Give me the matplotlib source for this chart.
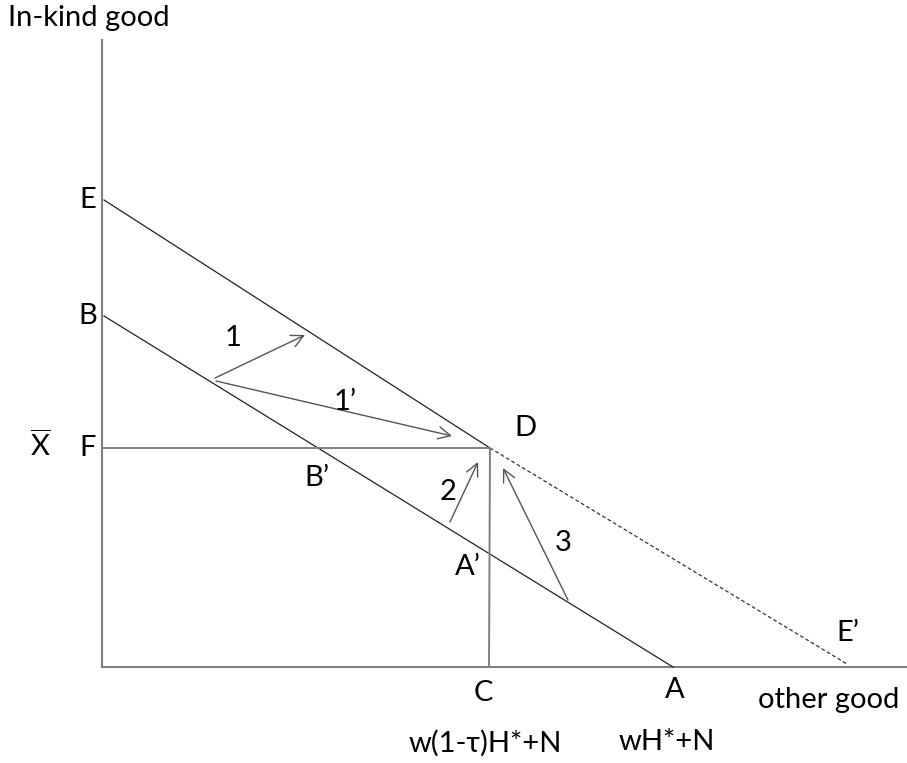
import matplotlib
matplotlib.use("Agg")
import matplotlib.pyplot as plt

plt.rcParams['font.family'] = ['Lato', 'DejaVu Sans']
plt.rcParams['mathtext.fontset'] = 'custom'
plt.rcParams['mathtext.rm'] = 'Lato'

# diagram points (origin at the corner of the axes)
axis_top = 627
axis_right = 805
E = (2, 467)
B = (2, 351)
F = (0, 219)
D = (388, 219)
C = (387, 0)
A = (571, 0)
E2 = (745, 3)

# arrows: (tail, head)
arrow_tails = [(113, 289), (114, 286), (348, 145), (466, 67)]
arrow_heads = [(203, 332), (350, 231), (376, 205), (401, 199)]
arrow_names = ['1', "1\u2019", '2', '3']
arrow_label_pos = [(131, 329), (243, 265), (346, 175), (461, 124)]

# point labels
point_labels = ['E', 'B', 'F', r'$\overline{\mathrm{X}}$', 'D', "B\u2019", "A\u2019", 'C', 'A', "E\u2019"]
point_label_pos = [(-14, 467), (-14, 351), (-14, 219), (-62, 221), (423, 239),
                   (215, 189), (366, 100), (381, -26), (573, -23), (746, 34)]

fig = plt.figure(figsize=(9.07, 7.63), dpi=100)
ax = fig.add_axes([0, 0, 1, 1])
ax.set_xlim(-102, 805)
ax.set_ylim(-96, 667)
ax.axis('off')

grey = '#808080'
# axes
ax.plot([0, 0], [0, axis_top], color=grey, lw=1.5)
ax.plot([0, axis_right], [0, 0], color=grey, lw=1.5)

# budget lines
ax.plot([E[0], D[0]], [E[1], D[1]], color='#222222', lw=0.9)
ax.plot([D[0], E2[0]], [D[1], E2[1]], color='#333333', lw=0.9, ls=(0, (3, 2)))
ax.plot([B[0], A[0]], [B[1], A[1]], color='#222222', lw=0.9)
ax.plot([F[0], D[0]], [F[1], D[1]], color=grey, lw=1.4)
ax.plot([C[0], D[0]], [C[1], D[1]], color=grey, lw=1.4)

for t, h in zip(arrow_tails, arrow_heads):
    ax.annotate('', xy=h, xytext=t,
                arrowprops=dict(arrowstyle='->', color='#555555', lw=1.0,
                                mutation_scale=22, shrinkA=0, shrinkB=0))

fs = 21
for name, pos in zip(arrow_names, arrow_label_pos):
    ax.text(pos[0], pos[1], name, fontsize=fs, ha='center', va='center')
for name, pos in zip(point_labels, point_label_pos):
    ax.text(pos[0], pos[1], name, fontsize=fs, ha='center', va='center')

ax.text(-94, 649, 'In-kind good', fontsize=fs, ha='left', va='center')
ax.text(727, -33, 'other good', fontsize=fs, ha='center', va='center')
ax.text(383, -76, 'w(1-\u03c4)H*+N', fontsize=fs, ha='center', va='center')
ax.text(565, -75, 'wH*+N', fontsize=fs, ha='center', va='center')

fig.savefig('out.png', dpi=100)
